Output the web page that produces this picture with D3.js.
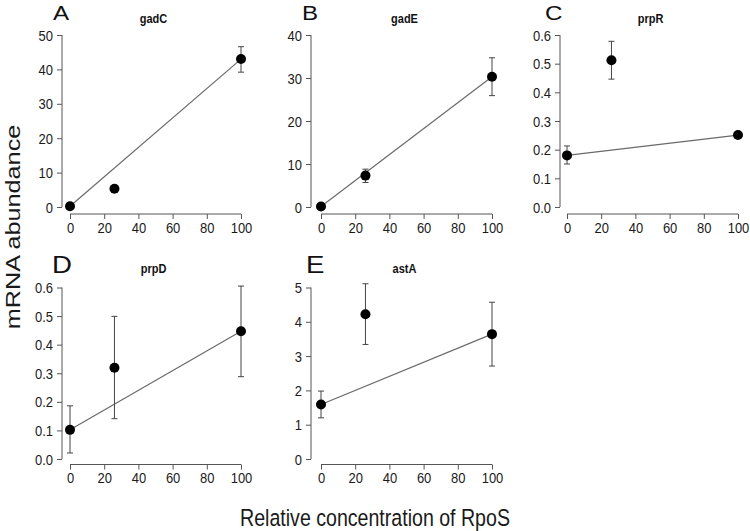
<!DOCTYPE html>
<html>
<head>
<meta charset="utf-8">
<script src="https://cdn.jsdelivr.net/npm/d3@7"></script>
<style>
  body { margin: 0; background: #fff; }
  svg { display: block; font-family: "Liberation Sans", Arial, Helvetica, sans-serif; }
</style>
</head>
<body>
<svg id="chart" width="750" height="531"></svg>
<script>
// ---- Data ----
const rpos = [0, 26, 100];
const xTicks = [0, 20, 40, 60, 80, 100];

const genes = ["gadC", "gadE", "prpR", "prpD", "astA"];
const letters = ["A", "B", "C", "D", "E"];

const gadC_mean = [0.2, 5.3, 43.0];
const gadC_lo   = [0.0, 5.0, 39.2];
const gadC_hi   = [0.4, 5.6, 46.6];

const gadE_mean = [0.1, 7.3, 30.3];
const gadE_lo   = [0.0, 5.7, 25.9];
const gadE_hi   = [0.3, 8.8, 34.7];

const prpR_mean = [0.180, 0.512, 0.251];
const prpR_lo   = [0.150, 0.446, 0.245];
const prpR_hi   = [0.213, 0.578, 0.257];

const prpD_mean = [0.102, 0.319, 0.447];
const prpD_lo   = [0.021, 0.141, 0.288];
const prpD_hi   = [0.186, 0.499, 0.605];

const astA_mean = [1.59, 4.22, 3.64];
const astA_lo   = [1.20, 3.34, 2.71];
const astA_hi   = [1.98, 5.11, 4.57];

const gadC_ticks = [0, 10, 20, 30, 40, 50];
const gadE_ticks = [0, 10, 20, 30, 40];
const prpR_ticks = [0.0, 0.1, 0.2, 0.3, 0.4, 0.5, 0.6];
const prpD_ticks = [0.0, 0.1, 0.2, 0.3, 0.4, 0.5, 0.6];
const astA_ticks = [0, 1, 2, 3, 4, 5];

const yFormats = [d3.format("d"), d3.format("d"), d3.format(".1f"), d3.format(".1f"), d3.format("d")];
const means = [gadC_mean, gadE_mean, prpR_mean, prpD_mean, astA_mean];
const los = [gadC_lo, gadE_lo, prpR_lo, prpD_lo, astA_lo];
const his = [gadC_hi, gadE_hi, prpR_hi, prpD_hi, astA_hi];
const tickSets = [gadC_ticks, gadE_ticks, prpR_ticks, prpD_ticks, astA_ticks];

// ---- Layout ----
const colX = [{ axis: 62, x0: 70, x1: 241 }, { axis: 311, x0: 321, x1: 492 }, { axis: 560, x0: 567, x1: 738 }];
const rowY = [
  { top: 35, bottom: 207, xaxis: 214, title: 23, letter: 20, letterSize: 21 },
  { top: 287.5, bottom: 459, xaxis: 464.5, title: 273, letter: 273, letterSize: 24 }
];
const letterX = [53, 302, 545, 52, 306];

const svg = d3.select("#chart");
const axisColor = "#555";
const lineColor = "#6a6a6a";
const textColor = "#1a1a1a";
const SY = 1.15; // vertical stretch of the reference typography

genes.forEach((gene, i) => {
  const col = colX[i % 3];
  const row = rowY[Math.floor(i / 3)];
  const ticks = tickSets[i];
  const mean = means[i], lo = los[i], hi = his[i];
  const x = d3.scaleLinear().domain([0, 100]).range([col.x0, col.x1]);
  const y = d3.scaleLinear().domain([ticks[0], ticks[ticks.length - 1]]).range([row.bottom, row.top]);
  const g = svg.append("g");

  // y axis
  const ya = g.append("g").attr("transform", `translate(${col.axis},0)`)
    .call(d3.axisLeft(y).tickValues(ticks).tickFormat(yFormats[i]).tickSize(5).tickPadding(4));
  ya.select(".domain").attr("d", `M0,${row.bottom}V${row.top}`);
  ya.selectAll("path,line").attr("stroke", axisColor);
  ya.selectAll("text")
    .attr("x", 0).attr("dy", null).attr("y", 0)
    .attr("transform", `translate(-9,5) scale(1,${SY})`)
    .attr("font-size", 13).attr("fill", textColor).attr("font-family", "Liberation Sans, Arial, sans-serif");

  // x axis
  const xa = g.append("g").attr("transform", `translate(0,${row.xaxis})`)
    .call(d3.axisBottom(x).tickValues(xTicks).tickFormat(d3.format("d")).tickSize(5).tickPadding(4));
  xa.select(".domain").attr("d", `M${col.x0},0H${col.x1}`);
  xa.selectAll("path,line").attr("stroke", axisColor);
  xa.selectAll("text")
    .attr("y", 0).attr("dy", null)
    .attr("transform", `translate(0,18.5) scale(1,${SY})`)
    .attr("font-size", 13).attr("fill", textColor).attr("font-family", "Liberation Sans, Arial, sans-serif");

  // fitted line between first and last points
  const a = 0, b = rpos.length - 1;
  g.append("line")
    .attr("x1", x(rpos[a])).attr("y1", y(mean[a]))
    .attr("x2", x(rpos[b])).attr("y2", y(mean[b]))
    .attr("stroke", lineColor).attr("stroke-width", 1.2);

  // error bars
  rpos.forEach((r, j) => {
    const cx = x(r);
    g.append("line").attr("x1", cx).attr("x2", cx).attr("y1", y(lo[j])).attr("y2", y(hi[j]))
      .attr("stroke", "#444").attr("stroke-width", 1);
    [lo[j], hi[j]].forEach(v => {
      g.append("line").attr("x1", cx - 3).attr("x2", cx + 3).attr("y1", y(v)).attr("y2", y(v))
        .attr("stroke", "#444").attr("stroke-width", 1);
    });
  });

  // points
  g.selectAll("circle.pt").data(rpos).enter().append("circle")
    .attr("class", "pt")
    .attr("cx", d => x(d)).attr("cy", (d, j) => y(mean[j])).attr("r", 5)
    .attr("fill", "#000");

  // title
  g.append("text")
    .attr("transform", `translate(${(col.x0 + col.x1) / 2 - 2},${row.title}) scale(1,${SY})`)
    .attr("text-anchor", "middle").attr("font-size", 11).attr("font-weight", "bold")
    .attr("fill", "#111").text(gene);

  // panel letter
  g.append("text")
    .attr("transform", `translate(${letterX[i]},${row.letter}) scale(1.15,1)`)
    .attr("font-size", row.letterSize).attr("fill", "#111").text(letters[i]);
});

// axis titles
svg.append("text").attr("transform", "translate(20,227) rotate(-90) scale(1.2,1)")
  .attr("text-anchor", "middle").attr("font-size", 21).attr("fill", textColor)
  .text("mRNA abundance");
svg.append("text").attr("transform", `translate(375,526) scale(1,1.2)`)
  .attr("text-anchor", "middle").attr("font-size", 19.6).attr("fill", textColor)
  .text("Relative concentration of RpoS");
</script>
</body>
</html>
